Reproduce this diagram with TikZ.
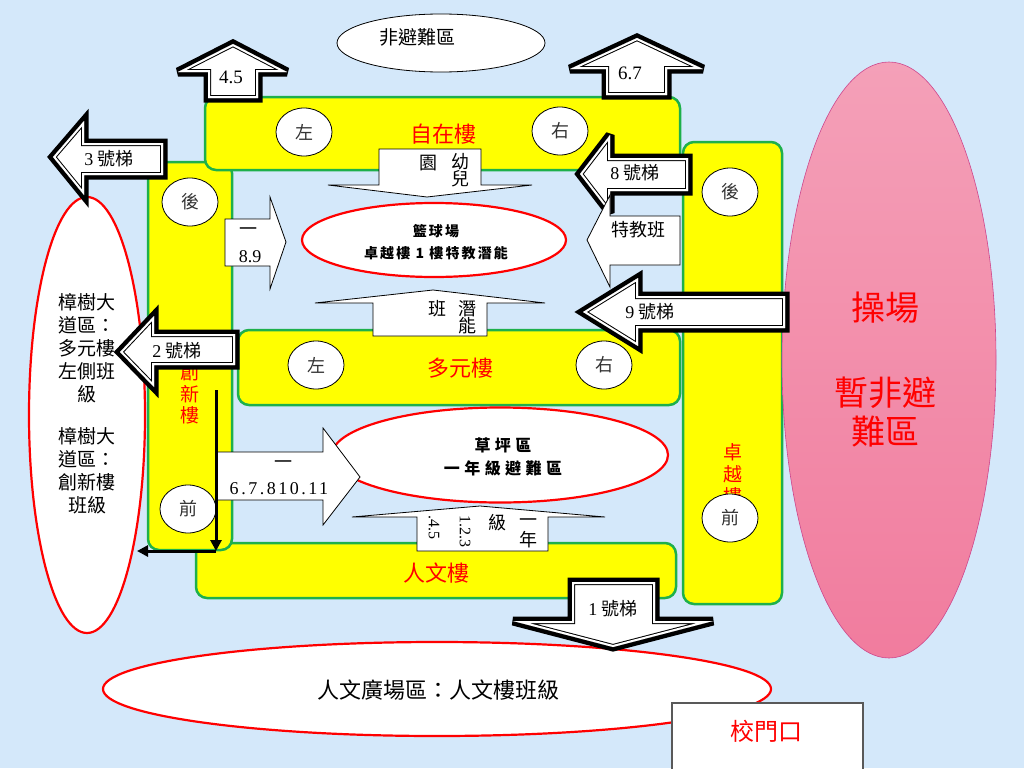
\documentclass[tikz,border=0pt]{standalone}
\usepackage{fontspec}
\setmainfont{Liberation Serif}
\newfontfamily\cjk{Noto Sans CJK TC}
\usetikzlibrary{shapes.geometric,arrows.meta}
\definecolor{bgc}{RGB}{212,232,250}
\definecolor{ylw}{RGB}{255,255,0}
\definecolor{grn}{RGB}{30,176,75}
\definecolor{pinktop}{RGB}{244,160,184}
\definecolor{pinkbot}{RGB}{241,124,158}
\definecolor{pinkedge}{RGB}{205,70,140}
\newcommand\stairarrow[1]{%
  \draw[line width=9pt, line join=miter, miter limit=3] #1;
  \fill[white] #1;
  \begin{scope}
    \clip #1;
    \draw[line width=6pt] #1;
    \draw[white, line width=4pt] #1;
  \end{scope}}
\begin{document}
\begin{tikzpicture}[x=1pt,y=-1pt,
  bldg/.style={draw=grn, line width=2.5pt, fill=ylw, rounded corners=11pt, inner sep=0pt},
  circ/.style={ellipse, draw=black, line width=0.8pt, fill=white, minimum width=56pt, minimum height=48pt, inner sep=0pt, text=black!80, font=\cjk\fontsize{18}{18}\selectfont},
  redlbl/.style={inner sep=0pt, text=red, font=\cjk\fontsize{22}{22}\selectfont},
  vlbl/.style={inner sep=0pt, text=red, align=center, font=\cjk\fontsize{19}{21.8}\selectfont},
  blk/.style={draw=black, line width=0.8pt, fill=white, line join=miter},
  zone/.style={ellipse, draw=red, line width=2.2pt, fill=white, inner sep=0pt},
  txt/.style={inner sep=0pt, text=black},
  stairtxt/.style={inner sep=0pt, font=\fontsize{18}{18}\selectfont},
  cj/.style={inner sep=0pt, font=\cjk\fontsize{18}{18}\selectfont},
  num/.style={inner sep=0pt, font=\fontsize{18}{18}\selectfont},
  blackline/.style={line width=3pt, -{Triangle[width=11pt,length=11pt]}}
]
\useasboundingbox (0,0) rectangle (1024,768);
\clip (0,0) rectangle (1024,768);
\fill[bgc] (0,0) rectangle (1024,768);

% top ellipse
\node[ellipse, draw=black, line width=0.8pt, fill=white, minimum width=208pt, minimum height=58pt, inner sep=0pt] (fei) at (441,43) {};
\node[txt, font=\cjk\fontsize{19}{19}\selectfont] (feit) at (417,37) {非避難區};

% buildings
\node[bldg, minimum width=480pt, minimum height=55pt] (renwen) at (436,570.5) {};
\node[bldg, minimum width=84pt, minimum height=388pt] (chuangxin) at (190,356) {};
\node[bldg, minimum width=475pt, minimum height=73pt] (zizai) at (442.5,133.5) {};
\node[bldg, minimum width=99pt, minimum height=462pt] (zhuoyue) at (732.5,373) {};
\node[bldg, minimum width=442pt, minimum height=75pt] (duoyuan) at (459,367.5) {};

% building labels
\node[redlbl] (zizait) at (443,134) {自在樓};
\node[redlbl] (duoyuant) at (460,368) {多元樓};
\node[redlbl] (renwent) at (436,573) {人文樓};
\node[vlbl] (chuangxint) at (190,394) {創\\新\\樓};
\node[vlbl] (zhuoyuet) at (733,474) {卓\\越\\樓};

% circles
\node[circ] (zuo1) at (304,132) {左};
\node[circ] (you1) at (560,131) {右};
\node[circ] (hou1) at (190,202) {後};
\node[circ] (hou2) at (730,192) {後};
\node[circ] (zuo2) at (316,365) {左};
\node[circ] (you2) at (604,365) {右};
\node[circ] (qian1) at (188,509) {前};
\node[circ] (qian2) at (730,518) {前};

% inner zones
\node[zone, minimum width=264pt, minimum height=74pt] (lanqiu) at (434,240) {};
\node[txt, font=\cjk\bfseries\fontsize{14}{14}\selectfont\addfontfeature{LetterSpace=15}] (lanqiut1) at (436,231) {籃球場};
\node[txt, font=\cjk\bfseries\fontsize{14}{14}\selectfont\addfontfeature{LetterSpace=15}] (lanqiut2) at (436,253) {卓越樓 1 樓特教潛能};
\node[zone, minimum width=336pt, minimum height=95pt] (caoping) at (500,455) {};
\node[txt, font=\cjk\bfseries\fontsize{16}{16}\selectfont\addfontfeature{LetterSpace=28}] (caopingt1) at (503,445) {草坪區};
\node[txt, font=\cjk\bfseries\fontsize{16}{16}\selectfont\addfontfeature{LetterSpace=28}] (caopingt2) at (503,468) {一年級避難區};

% left zone
\node[zone, minimum width=116pt, minimum height=436pt] (zhangshu) at (87,415) {};
\node[txt, align=center, font=\cjk\fontsize{19}{23}\selectfont] (zhangshut) at (87,404) {樟樹大\\道區：\\多元樓\\左側班\\級\\[19pt]樟樹大\\道區：\\創新樓\\班級};

% playground
\node[ellipse, draw=pinkedge, line width=0.6pt, top color=pinktop, bottom color=pinkbot, minimum width=214pt, minimum height=596pt, inner sep=0pt] (caochang) at (889,360) {};
\node[txt, text=red, align=center, font=\cjk\fontsize{34}{39}\selectfont] (caochangt) at (885,370) {操場\\[46pt]暫非避\\難區};

% bottom zone
\node[zone, minimum width=668pt, minimum height=94pt] (guangchang) at (437,689) {};
\node[txt, font=\cjk\fontsize{22}{22}\selectfont] (guangchangt) at (438,690) {人文廣場區：人文樓班級};

% stair arrows (compound outline)
\stairarrow{(208,98)--(208,72)--(178,72)--(233,44)--(287,72)--(258,72)--(258,98)--cycle}
\node[stairtxt, font=\fontsize{19}{19}\selectfont] (s45) at (231,77) {4.5};
\stairarrow{(606,95)--(606,69)--(570,69)--(637,38)--(703,69)--(667,69)--(667,95)--cycle}
\node[stairtxt, font=\fontsize{19}{19}\selectfont] (s67) at (630,73) {6.7};
\stairarrow{(163,143)--(84,143)--(84,121)--(53,157)--(84,195)--(84,175)--(163,175)--cycle}
\node[stairtxt] (s3) at (109,159) {3 {\cjk 號梯}};
\stairarrow{(688,158)--(610,158)--(610,135)--(580,174)--(610,213)--(610,191)--(688,191)--cycle}
\node[stairtxt] (s8) at (635,173) {8 {\cjk 號梯}};
\stairarrow{(785,296)--(638,296)--(638,278)--(583,312)--(638,346)--(638,328)--(785,328)--cycle}
\node[stairtxt] (s9) at (650,312) {9 {\cjk 號梯}};
\stairarrow{(235,334)--(154,334)--(154,316)--(120,352)--(154,387)--(154,365)--(235,365)--cycle}
\node[stairtxt] (s2) at (177,351) {2 {\cjk 號梯}};
\stairarrow{(572,582)--(655,582)--(655,621)--(713,621)--(613,647)--(513,621)--(572,621)--cycle}
\node[stairtxt] (s1) at (613,609) {1 {\cjk 號梯}};

% white block arrows
\draw[blk] (379,149)--(481,149)--(481,185)--(532,185)--(427,197)--(328,185)--(379,185)--cycle;
\node[cj] (yuan) at (428,163) {園};
\node[cj] (you) at (460,162) {幼};
\node[cj] (er) at (460,179) {兒};

\draw[blk] (225,219)--(270,219)--(270,197)--(286,242)--(270,289)--(270,266)--(225,266)--cycle;
\node[cj] (yi1) at (248,232) {一};
\node[num] (n89) at (250,257) {8.9};

\draw[blk] (680,216)--(610,216)--(610,195)--(587,240)--(610,287)--(610,265)--(680,265)--cycle;
\node[cj] (tejiao) at (638,230) {特教班};

\draw[blk] (373,336)--(373,303)--(315,303)--(433,290)--(545,303)--(487,303)--(487,336)--cycle;
\node[cj] (ban) at (437,309) {班};
\node[cj] (qian) at (467,309) {潛};
\node[cj] (neng) at (467,326) {能};

\draw[blk] (216,452)--(323,452)--(323,428)--(360,477)--(323,525)--(323,500)--(216,500)--cycle;
\node[cj] (yi2) at (283,465) {一};
\node[num, font=\fontsize{18}{18}\selectfont\addfontfeature{LetterSpace=14}] (n678) at (279,489) {6.7.810.11};

\draw[blk] (417,551)--(417,517)--(352,517)--(480,506)--(605,517)--(548,517)--(548,551)--cycle;
\node[cj] (yi3) at (528,523) {一};
\node[cj] (nian) at (528,540) {年};
\node[cj] (ji) at (497,523) {級};
\node[num, font=\fontsize{16}{16}\selectfont, rotate=-90] (n123) at (465,531) {1.2.3};
\node[num, font=\fontsize{16}{16}\selectfont, rotate=-90] (n45) at (434,527) {.4.5};

% gate
\draw[draw=black!65, line width=1.5pt, fill=white] (672,703) rectangle (863,790);
\node[txt, text=red, font=\cjk\fontsize{24}{24}\selectfont] (gate) at (766,731) {校門口};

% evacuation route lines
\coordinate (r1) at (216,390);
\coordinate (r2) at (216,551);
\coordinate (r3) at (137,551);
\draw[blackline] (r1) -- (r2);
\draw[blackline] (r2) -- (r3);
\end{tikzpicture}
\end{document}
